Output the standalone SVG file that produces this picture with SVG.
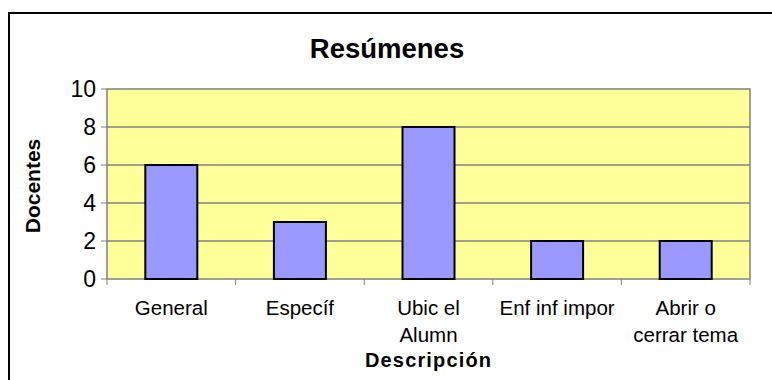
<svg xmlns="http://www.w3.org/2000/svg" width="772" height="380" viewBox="0 0 772 380">
<style>
text{font-family:"Liberation Sans",Arial,sans-serif;fill:#000}
.ytl{font-size:23px;text-anchor:end}
.cat{font-size:20.5px;text-anchor:middle}
.grid{stroke:#808080;stroke-width:1.3}
.tick{stroke:#808080;stroke-width:1}
.bar{fill:#9999FF;stroke:#000;stroke-width:2}
</style>
<rect width="772" height="380" fill="#fff"/>
<rect x="9" y="13" width="780" height="390" fill="#fff" stroke="#000" stroke-width="2"/>
<text x="387" y="58" font-size="27.5" font-weight="bold" text-anchor="middle">Resúmenes</text>
<g id="plot">
<rect x="107" y="89" width="643" height="190" fill="#FFFF99" stroke="#808080" stroke-width="1.5"/>
<line class="grid" x1="107" y1="127" x2="750" y2="127"/>
<line class="grid" x1="107" y1="165" x2="750" y2="165"/>
<line class="grid" x1="107" y1="203" x2="750" y2="203"/>
<line class="grid" x1="107" y1="241" x2="750" y2="241"/>
</g>
<g id="axes">
<line class="tick" x1="101" y1="89" x2="107" y2="89"/>
<line class="tick" x1="101" y1="127" x2="107" y2="127"/>
<line class="tick" x1="101" y1="165" x2="107" y2="165"/>
<line class="tick" x1="101" y1="203" x2="107" y2="203"/>
<line class="tick" x1="101" y1="241" x2="107" y2="241"/>
<line class="tick" x1="101" y1="279" x2="107" y2="279"/>
<line class="tick" x1="107" y1="279" x2="107" y2="285"/>
<line class="tick" x1="235.6" y1="279" x2="235.6" y2="285"/>
<line class="tick" x1="364.2" y1="279" x2="364.2" y2="285"/>
<line class="tick" x1="492.8" y1="279" x2="492.8" y2="285"/>
<line class="tick" x1="621.4" y1="279" x2="621.4" y2="285"/>
<line class="tick" x1="750" y1="279" x2="750" y2="285"/>
<text class="ytl" x="96" y="97">10</text>
<text class="ytl" x="96" y="135">8</text>
<text class="ytl" x="96" y="173">6</text>
<text class="ytl" x="96" y="211">4</text>
<text class="ytl" x="96" y="249">2</text>
<text class="ytl" x="96" y="287">0</text>
<text x="0" y="0" font-size="21" font-weight="bold" text-anchor="middle" transform="translate(40,186) rotate(-90)">Docentes</text>
<text x="428" y="367" font-size="20" font-weight="bold" text-anchor="middle" textLength="126" lengthAdjust="spacing">Descripción</text>
</g>
<g id="bar-general"><rect class="bar" x="145.3" y="165" width="52" height="114"/><text class="cat" x="171.3" y="315">General</text></g>
<g id="bar-especif"><rect class="bar" x="273.9" y="222" width="52" height="57"/><text class="cat" x="299.9" y="315">Específ</text></g>
<g id="bar-ubic"><rect class="bar" x="402.5" y="127" width="52" height="152"/><text class="cat" x="428.5" y="315">Ubic el</text><text class="cat" x="428.5" y="342">Alumn</text></g>
<g id="bar-enf"><rect class="bar" x="531.1" y="241" width="52" height="38"/><text class="cat" x="557.1" y="315">Enf inf impor</text></g>
<g id="bar-abrir"><rect class="bar" x="659.7" y="241" width="52" height="38"/><text class="cat" x="685.7" y="315">Abrir o</text><text class="cat" x="685.7" y="342">cerrar tema</text></g>
</svg>
